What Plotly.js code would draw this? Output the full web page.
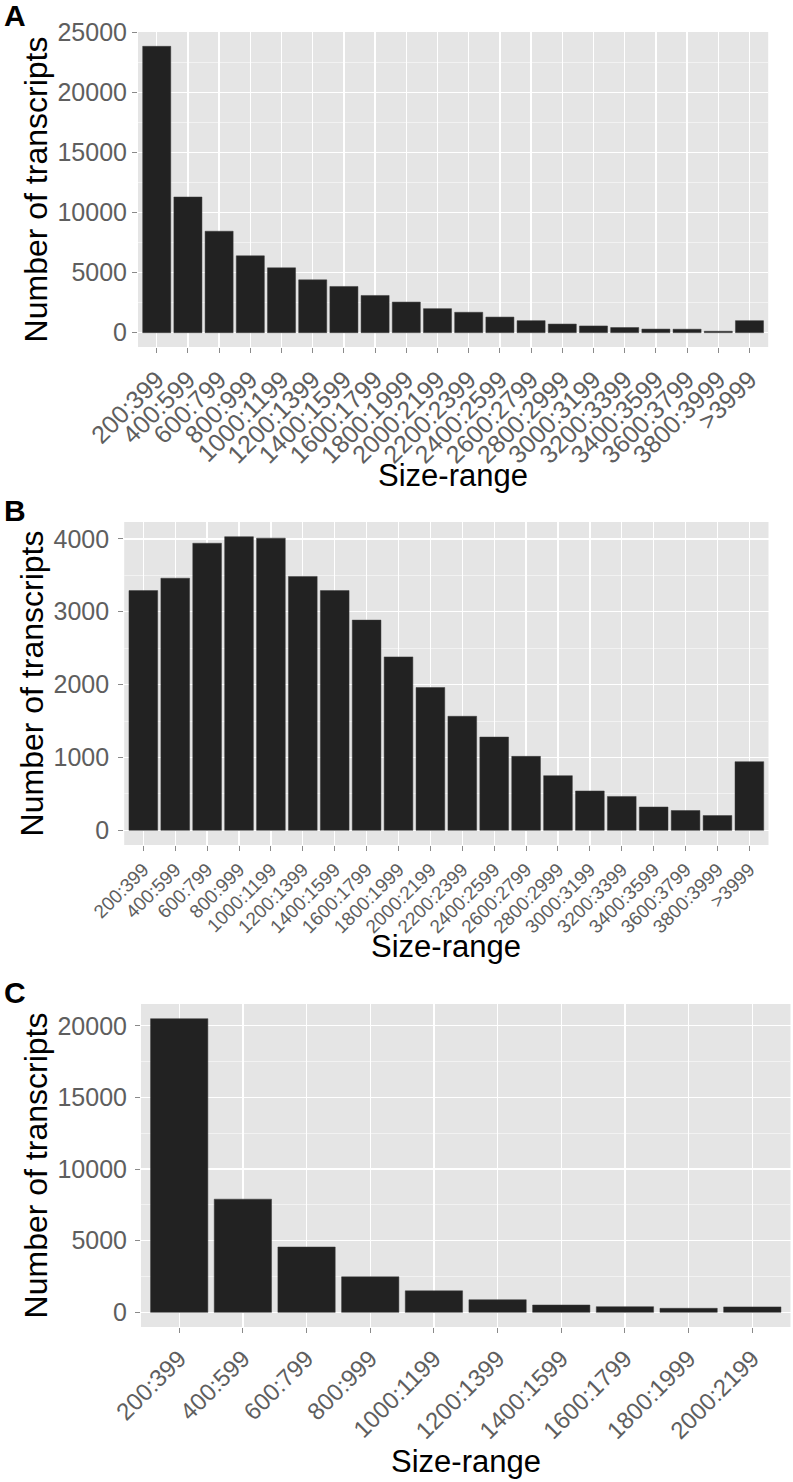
<!DOCTYPE html>
<html>
<head>
<meta charset="utf-8">
<script src="https://cdn.plot.ly/plotly-3.0.1.min.js"></script>
<style>html,body{margin:0;padding:0;background:#fff;}#chart{width:793px;height:1482px;}</style>
</head>
<body>
<div id="chart"></div>
<script>
// ---- data ----
const catsA = ["200:399","400:599","600:799","800:999","1000:1199","1200:1399","1400:1599","1600:1799","1800:1999","2000:2199","2200:2399","2400:2599","2600:2799","2800:2999","3000:3199","3200:3399","3400:3599","3600:3799","3800:3999",">3999"];
const valuesA = [23850, 11300, 8450, 6400, 5400, 4400, 3850, 3100, 2550, 2000, 1700, 1300, 1000, 720, 560, 430, 300, 290, 120, 1000];

const catsB = ["200:399","400:599","600:799","800:999","1000:1199","1200:1399","1400:1599","1600:1799","1800:1999","2000:2199","2200:2399","2400:2599","2600:2799","2800:2999","3000:3199","3200:3399","3400:3599","3600:3799","3800:3999",">3999"];
const valuesB = [3290, 3460, 3940, 4030, 4010, 3485, 3290, 2885, 2380, 1960, 1565, 1280, 1015, 750, 540, 465, 320, 272, 203, 942];

const catsC = ["200:399","400:599","600:799","800:999","1000:1199","1200:1399","1400:1599","1600:1799","1800:1999","2000:2199"];
const valuesC = [20500, 7900, 4560, 2480, 1500, 880, 510, 395, 280, 380];

const panelLetters = ["A","B","C"];
const xTitle = "Size-range";
const yTitle = "Number of transcripts";

// ---- layout helpers ----
const W = 793, H = 1482;
const xd = (l, r) => [l / W, r / W];
const yd = (t, b) => [1 - b / H, 1 - t / H];

const tickGrey = "#5e5e5e";
const font = "Liberation Sans, Arial, Helvetica, sans-serif";

function xaxisSpec(dom, n, anchor, tsize, tstand) {
  return {
    domain: dom, anchor: anchor, type: "category",
    range: [-0.6, n - 1 + 0.6],
    showgrid: true, gridcolor: "#ffffff", gridwidth: 1.3,
    ticks: "outside", ticklen: 5, tickcolor: "#8a8a8a", tickwidth: 1,
    tickangle: -45, ticklabelstandoff: tstand,
    tickfont: {family: font, size: tsize, color: tickGrey},
    showline: false, zeroline: false, fixedrange: true
  };
}
function yaxisSpec(dom, vals, dtick, anchor, tstand) {
  const m = Math.max(...vals);
  return {
    domain: dom, anchor: anchor,
    range: [-0.05 * m, 1.05 * m],
    tick0: 0, dtick: dtick, tickformat: "d",
    showgrid: true, gridcolor: "#ffffff", gridwidth: 1.3,
    minor: {dtick: dtick / 2, tick0: 0, showgrid: true, gridcolor: "#f2f2f2", gridwidth: 1, ticks: ""},
    ticks: "outside", ticklen: 5, tickcolor: "#8a8a8a", tickwidth: 1,
    ticklabelstandoff: tstand,
    tickfont: {family: font, size: 25, color: tickGrey},
    showline: false, zeroline: false, fixedrange: true,
    title: {text: yTitle, font: {family: font, size: 32, color: "#000"}, standoff: 0}
  };
}

const barStyle = {color: "#222222", line: {color: "#3a3a3a", width: 0.5}};

const data = [
  {type: "bar", x: catsA, y: valuesA, xaxis: "x", yaxis: "y", marker: barStyle, hoverinfo: "x+y"},
  {type: "bar", x: catsB, y: valuesB, xaxis: "x2", yaxis: "y2", marker: barStyle, hoverinfo: "x+y"},
  {type: "bar", x: catsC, y: valuesC, xaxis: "x3", yaxis: "y3", marker: barStyle, hoverinfo: "x+y"}
];

const letter = (t, top) => ({text: "<b>" + t + "</b>", xref: "paper", yref: "paper", x: 2 / W, y: 1 - top / H, xanchor: "left", yanchor: "top", showarrow: false, font: {family: font, size: 30, color: "#000"}});
// x-axis titles, centred under each panel's plot area
const xTitleAnn = (axis, cy) => ({text: xTitle, xref: axis + " domain", yref: "paper", x: 0.5, y: 1 - cy / H, xanchor: "center", yanchor: "middle", showarrow: false, font: {family: font, size: 31, color: "#000"}});

const layout = {
  width: W, height: H,
  margin: {l: 0, r: 0, t: 0, b: 0},
  paper_bgcolor: "#ffffff",
  plot_bgcolor: "#e5e5e5",
  showlegend: false,
  bargap: 0.1,
  font: {family: font},
  xaxis: xaxisSpec(xd(138, 768.2), catsA.length, "y", 25, 2),
  yaxis: yaxisSpec(yd(32, 347), valuesA, 5000, "x", 0),
  xaxis2: xaxisSpec(xd(124.2, 768.5), catsB.length, "y2", 19, 0),
  yaxis2: yaxisSpec(yd(522, 845), valuesB, 1000, "x2", 4),
  xaxis3: xaxisSpec(xd(141, 790.5), catsC.length, "y3", 24, 2),
  yaxis3: yaxisSpec(yd(1004, 1327), valuesC, 5000, "x3", 3),
  annotations: [
    letter(panelLetters[0], -3), letter(panelLetters[1], 492), letter(panelLetters[2], 974),
    xTitleAnn("x", 476), xTitleAnn("x2", 946), xTitleAnn("x3", 1461)
  ]
};

Plotly.newPlot("chart", data, layout, {displayModeBar: false, staticPlot: true});
</script>
</body>
</html>
